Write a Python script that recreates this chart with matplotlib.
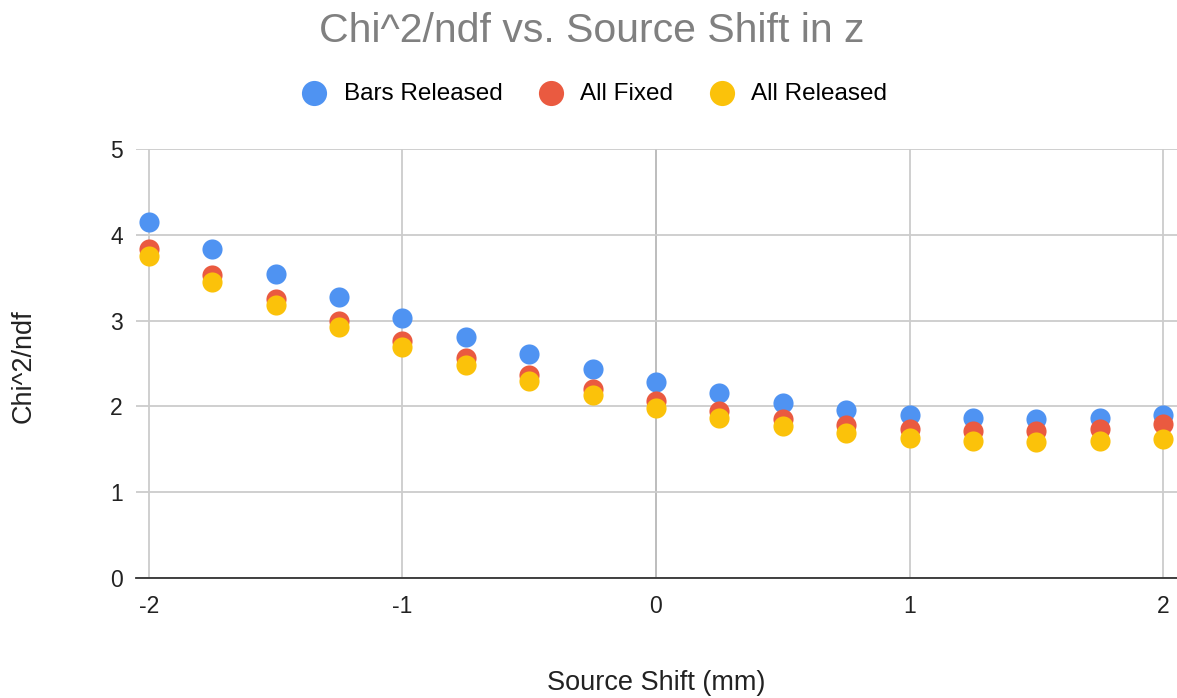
import numpy as np
import matplotlib
matplotlib.use('Agg')
import matplotlib.pyplot as plt

plt.rcParams['font.family'] = ['Liberation Sans', 'DejaVu Sans']
plt.rcParams['axes.unicode_minus'] = False

shift = [-2, -1.75, -1.5, -1.25, -1, -0.75, -0.5, -0.25, 0,
         0.25, 0.5, 0.75, 1, 1.25, 1.5, 1.75, 2]
bars_released = [4.15, 3.83, 3.54, 3.27, 3.03, 2.81, 2.61, 2.44, 2.28,
                 2.16, 2.04, 1.96, 1.90, 1.86, 1.85, 1.86, 1.90]
all_fixed = [3.84, 3.53, 3.25, 3.00, 2.76, 2.56, 2.37, 2.20, 2.06,
             1.95, 1.85, 1.78, 1.74, 1.71, 1.71, 1.74, 1.79]
all_released = [3.75, 3.45, 3.18, 2.93, 2.69, 2.48, 2.30, 2.13, 1.98,
                1.87, 1.77, 1.69, 1.63, 1.60, 1.59, 1.60, 1.62]

fig = plt.figure(figsize=(11.77, 6.98), dpi=100)
ax = fig.add_axes([136/1177, 1 - 578/698, 1 - 136/1177, (578 - 149)/698])

ax.scatter(shift, bars_released, s=210, color='#4f93f2', label='Bars Released', zorder=3, linewidths=0)
ax.scatter(shift, all_fixed, s=210, color='#ea5a40', label='All Fixed', zorder=4, linewidths=0)
ax.scatter(shift, all_released, s=210, color='#fbc20a', label='All Released', zorder=5, linewidths=0)

ax.set_xlim(-2.051, 2.055)
ax.set_ylim(0, 5)
ax.set_xticks([-2, -1, 0, 1, 2])
ax.set_yticks([0, 1, 2, 3, 4, 5])
ax.grid(True, color='#cccccc', linewidth=1.3, zorder=0)
ax.axvline(0, color='#333333', linewidth=1.3, zorder=1)
for s in ['top', 'right', 'left']:
    ax.spines[s].set_visible(False)
ax.spines['bottom'].set_color('#333333')
ax.spines['bottom'].set_linewidth(1.3)
ax.tick_params(length=0, labelsize=16.5, colors='#222222')
ax.tick_params(axis='x', pad=12)
ax.tick_params(axis='y', pad=9.5)

ax.set_xlabel('Source Shift (mm)', fontsize=19.5, color='#222222')
ax.xaxis.set_label_coords(0.5, -0.215)
ax.set_ylabel('Chi^2/ndf', fontsize=19.5, color='#222222')
ax.yaxis.set_label_coords(-0.095, 0.495)

fig.text(0.503, 0.955, 'Chi^2/ndf vs. Source Shift in z', ha='center', va='center',
         fontsize=29.5, color='#808080')
fig.legend(loc='center', bbox_to_anchor=(0.5, 0.866), ncol=3, frameon=False,
           fontsize=17.5, handletextpad=0.2, columnspacing=1.0, markerscale=1.25)

plt.savefig('out.png', dpi=100)
